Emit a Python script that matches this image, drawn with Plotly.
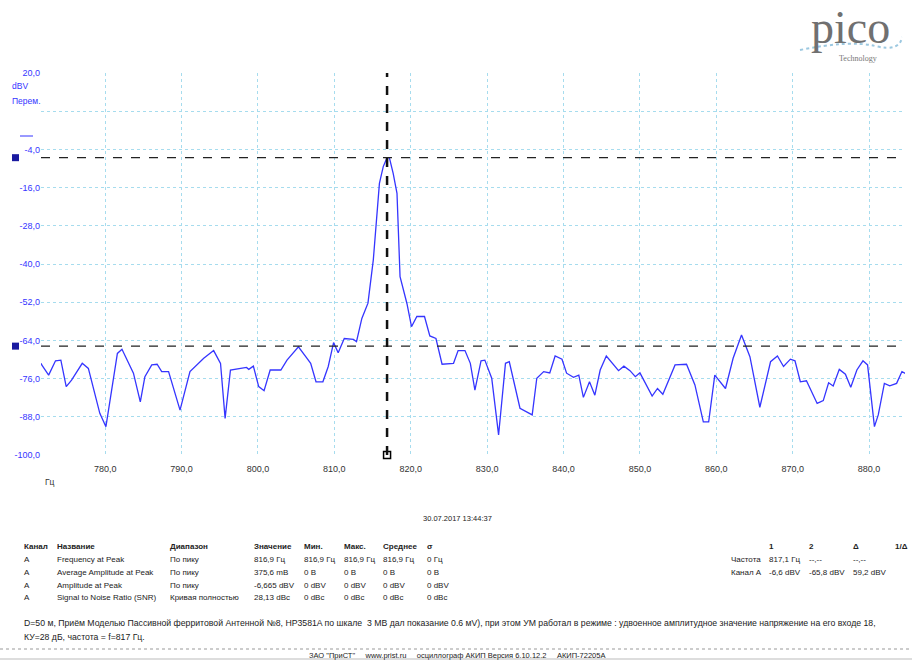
import plotly.graph_objects as go

# ---------------- data ----------------
freq_hz = [771.6, 771.7, 772.6, 773.5, 774.2, 774.9, 775.6, 777.0, 777.8, 779.3, 780.1,
           781.6, 782.2, 783.0, 783.7, 784.6, 785.2, 786.1, 786.8, 787.4, 788.3, 789.8,
           791.1, 792.9, 794.2, 795.1, 795.7, 796.4, 797.7, 798.5, 798.8, 799.4, 800.1,
           800.8, 801.6, 803.0, 803.8, 805.3, 806.4, 806.9, 807.6, 808.5, 809.2, 809.9,
           810.5, 811.3, 812.5, 812.9, 813.6, 814.4, 815.1, 815.6, 815.9, 816.4, 816.9,
           817.2, 817.7, 818.2, 818.6, 819.5, 820.1, 820.8, 821.8, 822.5, 823.3, 824.1,
           825.6, 826.2, 827.1, 827.8, 828.4, 829.2, 829.7, 830.6, 831.5, 832.4, 832.9,
           834.3, 835.9, 836.5, 837.4, 838.2, 838.9, 839.8, 840.4, 841.3, 842.0, 842.6,
           843.4, 844.1, 844.8, 845.6, 847.2, 847.9, 848.7, 849.4, 850.0, 851.6, 852.3,
           853.0, 853.7, 854.6, 856.1, 857.2, 858.3, 859.0, 859.8, 861.2, 862.2, 863.3,
           864.4, 865.7, 867.1, 868.0, 868.8, 869.7, 870.3, 871.0, 871.8, 873.2, 874.0,
           874.7, 875.3, 876.1, 876.9, 877.6, 878.4, 879.2, 879.8, 880.2, 880.7, 881.2,
           882.0, 882.7, 883.6, 884.3, 884.9]
level_dbv = [-71.2, -71.7, -74.9, -70.4, -70.2, -78.5, -76.5, -71.2, -72.8, -86.9, -91.1,
             -68.1, -66.8, -70.7, -74.3, -83.3, -75.4, -71.7, -71.5, -73.8, -73.8, -85.9,
             -73.8, -69.6, -67.2, -71.2, -88.5, -73.3, -72.8, -72.5, -73.1, -72.1, -78.5,
             -79.8, -73.3, -73.3, -70.2, -66.0, -69.6, -71.2, -77.0, -77.0, -72.2, -64.7,
             -67.9, -63.4, -63.7, -64.4, -57.1, -52.3, -38.7, -23.0, -14.7, -9.4, -6.6,
             -6.6, -11.5, -17.8, -44.0, -52.4, -59.7, -56.5, -56.5, -62.6, -63.4, -71.5,
             -71.2, -67.2, -67.2, -71.2, -79.6, -70.4, -70.2, -75.9, -93.7, -71.2, -70.7,
             -85.3, -87.4, -75.9, -73.8, -74.2, -68.9, -69.9, -74.3, -75.6, -74.9, -81.9,
             -77.0, -81.2, -73.3, -68.9, -73.5, -72.1, -73.5, -75.4, -74.2, -81.5, -79.1,
             -80.9, -77.0, -71.7, -71.5, -78.0, -89.6, -89.6, -74.9, -79.1, -69.6, -62.3,
             -69.1, -85.0, -70.7, -68.9, -72.2, -69.9, -70.4, -77.0, -76.7, -83.8, -82.9,
             -77.3, -78.3, -73.1, -74.6, -78.7, -73.3, -70.4, -71.7, -81.2, -91.1, -87.4,
             -77.5, -78.3, -77.5, -73.8, -74.6]

y_tick_vals = [20, 8, -4, -16, -28, -40, -52, -64, -76, -88, -100]
y_tick_text = ["20,0", "", "-4,0", "-16,0", "-28,0", "-40,0", "-52,0", "-64,0",
               "-76,0", "-88,0", "-100,0"]
x_tick_vals = [780, 790, 800, 810, 820, 830, 840, 850, 860, 870, 880]
x_tick_text = ["780,0", "790,0", "800,0", "810,0", "820,0", "830,0", "840,0",
               "850,0", "860,0", "870,0", "880,0"]

cursor_freq = 816.9
cursor_level_1 = -6.6
cursor_level_2 = -65.8

table_header = ["Канал", "Название", "Диапазон", "Значение", "Мин.", "Макс.", "Среднее", "σ"]
table_rows = [
    ["A", "Frequency at Peak", "По пику", "816,9 Гц", "816,9 Гц", "816,9 Гц", "816,9 Гц", "0 Гц"],
    ["A", "Average Amplitude at Peak", "По пику", "375,6 mB", "0 B", "0 B", "0 B", "0 B"],
    ["A", "Amplitude at Peak", "По пику", "-6,665 dBV", "0 dBV", "0 dBV", "0 dBV", "0 dBV"],
    ["A", "Signal to Noise Ratio (SNR)", "Кривая полностью", "28,13 dBc", "0 dBc", "0 dBc", "0 dBc", "0 dBc"],
]
cursor_header = ["", "1", "2", "Δ", "1/Δ"]
cursor_rows = [
    ["Частота", "817,1 Гц", "--,--", "--,--", ""],
    ["Канал A", "-6,6 dBV", "-65,8 dBV", "59,2 dBV", ""],
]
date_text = "30.07.2017 13:44:37"
note_lines = [
    "D=50 м, Приём Моделью Пассивной ферритовой Антенной №8, HP3581A по шкале  3 МВ дал показание 0.6 мV), при этом УМ работал в режиме : удвоенное амплитудное значение напряжение на его входе 18,",
    "КУ=28 дБ, частота = f=817 Гц.",
]
footer_text = 'ЗАО "ПриСТ"     www.prist.ru     осциллограф АКИП Версия 6.10.12.2     АКИП-72205A'

# ---------------- layout helpers (pixel -> paper) ----------------
W, H = 912, 660
ML, MR, MT, MB = 41, 7, 73, 205
PW, PH = W - ML - MR, H - MT - MB


def px(x):
    return (x - ML) / PW


def py(y):
    return (H - MB - y) / PH


FONT = "Liberation Sans"
BLUE = "#3535ff"
GRID = "#a6dcee"

fig = go.Figure()
fig.add_trace(go.Scatter(x=freq_hz, y=level_dbv, mode="lines",
                         line=dict(color=BLUE, width=1.3), hoverinfo="skip",
                         showlegend=False))
# cursor marker at bottom
fig.add_trace(go.Scatter(x=[cursor_freq], y=[y_tick_vals[-1]], mode="markers",
                         marker=dict(symbol="square-open", size=7, color="#000",
                                     line=dict(width=1.5)),
                         cliponaxis=False, showlegend=False, hoverinfo="skip"))

shapes = []
# horizontal cursors
for lvl in (cursor_level_1, cursor_level_2):
    shapes.append(dict(type="line", xref="paper", x0=0, x1=1, yref="y", y0=lvl, y1=lvl,
                       line=dict(color="#222", width=1.3, dash="dash")))
    shapes.append(dict(type="rect", xref="paper", x0=px(12), x1=px(19), yref="y",
                       y0=lvl - 1.1, y1=lvl + 1.1, fillcolor="#1a1aa0",
                       line=dict(width=0)))
# vertical cursor
shapes.append(dict(type="line", xref="x", x0=cursor_freq, x1=cursor_freq, yref="paper",
                   y0=0, y1=1, line=dict(color="#111", width=2.5, dash="dash")))
# small blue mark near axis title
shapes.append(dict(type="line", xref="paper", x0=px(20), x1=px(33), yref="paper",
                   y0=py(136), y1=py(136), line=dict(color=BLUE, width=1)))
# footer separators
shapes.append(dict(type="line", xref="paper", x0=px(0), x1=px(912), yref="paper",
                   y0=py(649), y1=py(649), line=dict(color="#999", width=1, dash="dot")))
shapes.append(dict(type="line", xref="paper", x0=px(0), x1=px(912), yref="paper",
                   y0=py(659), y1=py(659), line=dict(color="#bbb", width=1)))
# logo swoosh
shapes.append(dict(type="path", xref="paper", yref="paper",
                   path=f"M {px(800)},{py(50)} Q {px(850)},{py(40)} {px(875)},{py(46)} T {px(902)},{py(37)}",
                   line=dict(color="#9cc8e0", width=2, dash="dot")))

ann = []
TXT = "#222"


def add_text(x, y, text, size=8, color=TXT, anchor="left", family=FONT, yanchor="middle"):
    ann.append(dict(x=px(x), y=py(y), xref="paper", yref="paper", text=text,
                    showarrow=False, xanchor=anchor, yanchor=yanchor,
                    font=dict(family=family, size=size, color=color)))


add_text(10, 86, "dBV", 8.5, BLUE)
add_text(10, 101, "Перем.", 8.5, BLUE)
add_text(43, 482, "Гц", 8.5, "#333")
add_text(457, 518, date_text, 7.5, TXT, "center")

col_x = [22, 55, 168, 252, 302, 342, 381, 425]
row_y = [546, 559, 572, 585, 597]
for cx, h in zip(col_x, table_header):
    add_text(cx, row_y[0], f"<b>{h}</b>", 8)
for ry, row in zip(row_y[1:], table_rows):
    for cx, v in zip(col_x, row):
        add_text(cx, ry, v, 8)

cur_x = [729, 767, 807, 851, 893]
for cx, h in zip(cur_x, cursor_header):
    if h:
        add_text(cx, row_y[0], f"<b>{h}</b>", 8)
for ry, row in zip(row_y[1:3], cursor_rows):
    for cx, v in zip(cur_x, row):
        if v:
            add_text(cx, ry, v, 8)

add_text(22, 623, note_lines[0], 8.7)
add_text(22, 637, note_lines[1], 8.7)
add_text(457, 655, footer_text, 7.5, TXT, "center")

# logo
add_text(850, 0, "pico", 46, "#707070", "center", "Liberation Serif", "top")
add_text(858, 59, "Technology", 8, "#777", "center", "Liberation Serif")

fig.update_layout(
    width=W, height=H,
    margin=dict(l=ML, r=MR, t=MT, b=MB, pad=0),
    paper_bgcolor="white", plot_bgcolor="white",
    shapes=shapes, annotations=ann, showlegend=False,
    font=dict(family=FONT),
    xaxis=dict(range=[771.6, 884.7], tickvals=x_tick_vals, ticktext=x_tick_text,
               showgrid=True, gridcolor=GRID, griddash="dot", gridwidth=1,
               zeroline=False, showline=False, ticks="outside", ticklen=5,
               tickcolor="rgba(0,0,0,0)",
               tickfont=dict(family=FONT, size=9, color="#333")),
    yaxis=dict(range=[-100, 20], tickvals=y_tick_vals, ticktext=y_tick_text,
               showgrid=True, gridcolor=GRID, griddash="dot", gridwidth=1,
               zeroline=False, showline=False, ticks="",
               tickfont=dict(family=FONT, size=9, color=BLUE)),
)

fig.write_html("out.html")
